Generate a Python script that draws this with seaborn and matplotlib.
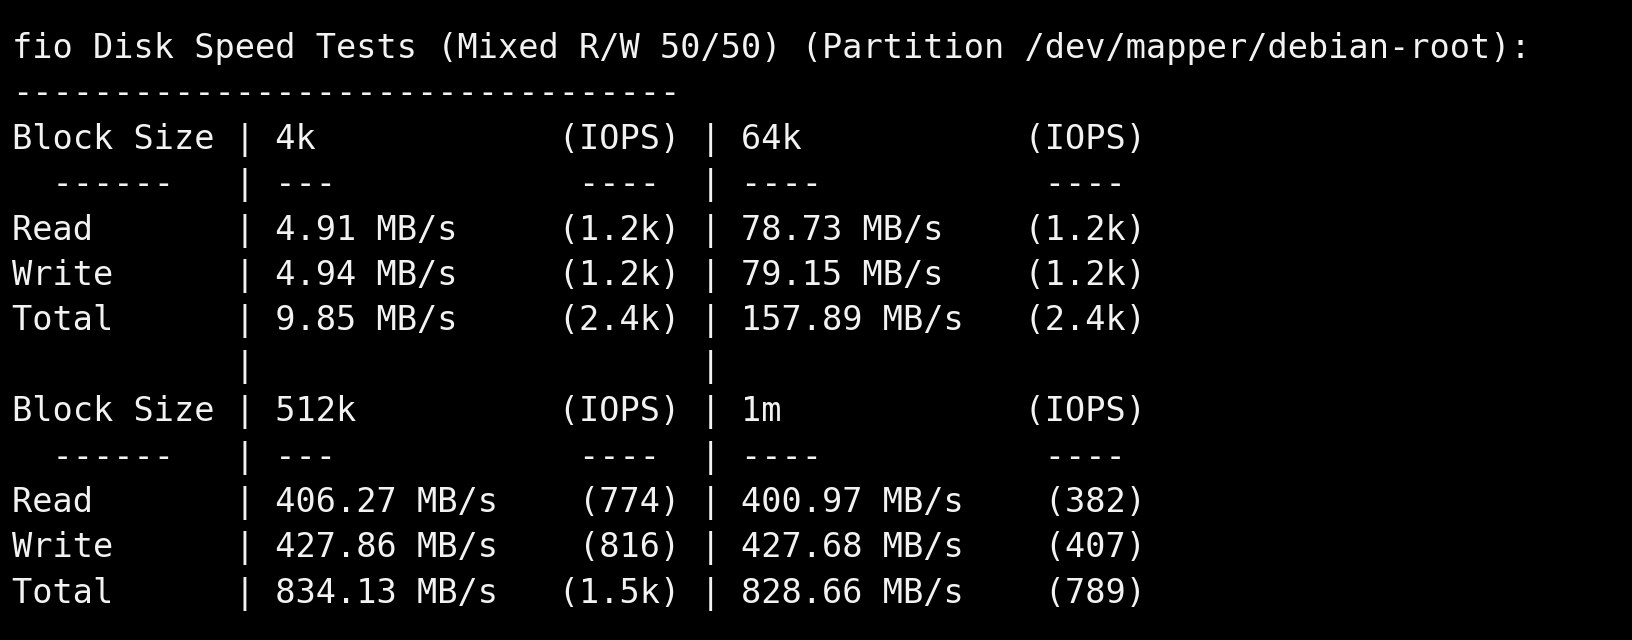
import matplotlib
matplotlib.use("Agg")
import matplotlib.pyplot as plt
import seaborn as sns

sns.set_theme(style="white")
plt.rcParams['font.family'] = ['DejaVu Sans Mono']

title = "fio Disk Speed Tests (Mixed R/W 50/50) (Partition /dev/mapper/debian-root):"
block_sizes = ["4k", "64k", "512k", "1m"]
read_speed = ["4.91 MB/s", "78.73 MB/s", "406.27 MB/s", "400.97 MB/s"]
write_speed = ["4.94 MB/s", "79.15 MB/s", "427.86 MB/s", "427.68 MB/s"]
total_speed = ["9.85 MB/s", "157.89 MB/s", "834.13 MB/s", "828.66 MB/s"]
read_iops = ["(1.2k)", "(1.2k)", "(774)", "(382)"]
write_iops = ["(1.2k)", "(1.2k)", "(816)", "(407)"]
total_iops = ["(2.4k)", "(2.4k)", "(1.5k)", "(789)"]

def row(a, b, c, d, e):
    return "%-10s | %-11s %8s | %-11s %8s" % (a, b, c, d, e)

lines = [title, "-" * 33]
for g in (0, 2):
    i, j = g, g + 1
    lines.append(row("Block Size", block_sizes[i], "(IOPS)", block_sizes[j], "(IOPS)"))
    lines.append(row("  ------", "---", "---- ", "----", "---- "))
    lines.append(row("Read", read_speed[i], read_iops[i], read_speed[j], read_iops[j]))
    lines.append(row("Write", write_speed[i], write_iops[i], write_speed[j], write_iops[j]))
    lines.append(row("Total", total_speed[i], total_iops[i], total_speed[j], total_iops[j]))
    if g == 0:
        lines.append("%-10s | %-20s |" % ("", ""))

W, H = 1632, 640
fig = plt.figure(figsize=(W / 100, H / 100), dpi=100, facecolor="black")
for k, s in enumerate(lines):
    y = 58 + k * 45.4
    fig.text(12 / W, 1 - y / H, s.rstrip(), color="#f2f2f2", fontsize=24.2,
             ha="left", va="baseline")
fig.savefig("out.png", dpi=100, facecolor="black")
